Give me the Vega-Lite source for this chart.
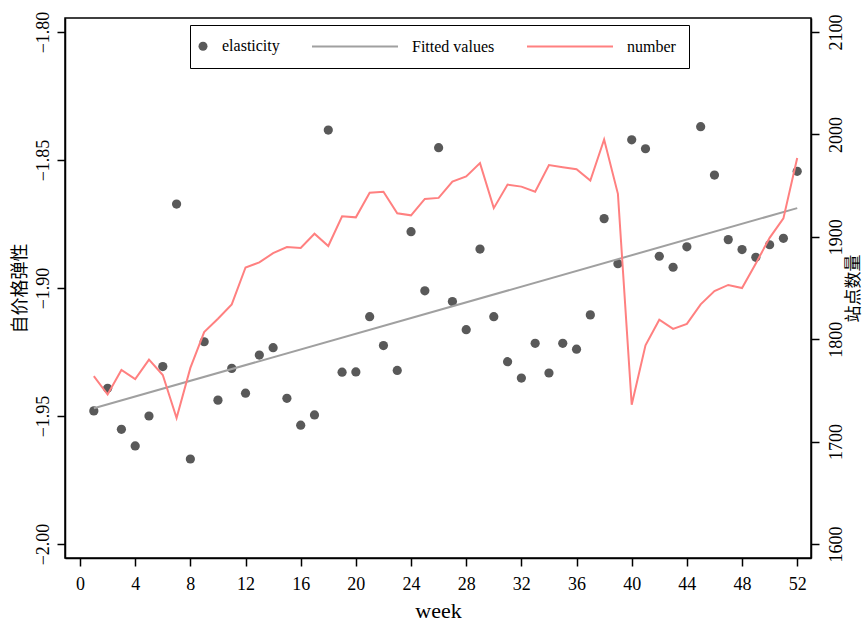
{
  "$schema": "https://vega.github.io/schema/vega-lite/v6.json",
  "width": 746,
  "height": 540,
  "autosize": {"type": "none"},
  "padding": {"left": 65, "top": 18, "right": 52, "bottom": 64},
  "background": "white",
  "datasets": {
    "weekly": [
      {"week": 1, "elasticity": -1.9480, "number": 1764},
      {"week": 2, "elasticity": -1.9392, "number": 1746},
      {"week": 3, "elasticity": -1.9552, "number": 1770},
      {"week": 4, "elasticity": -1.9617, "number": 1761},
      {"week": 5, "elasticity": -1.9500, "number": 1780},
      {"week": 6, "elasticity": -1.9307, "number": 1765},
      {"week": 7, "elasticity": -1.8672, "number": 1723},
      {"week": 8, "elasticity": -1.9668, "number": 1772},
      {"week": 9, "elasticity": -1.9210, "number": 1807},
      {"week": 10, "elasticity": -1.9438, "number": 1820},
      {"week": 11, "elasticity": -1.9314, "number": 1834},
      {"week": 12, "elasticity": -1.9411, "number": 1870},
      {"week": 13, "elasticity": -1.9262, "number": 1875},
      {"week": 14, "elasticity": -1.9233, "number": 1884},
      {"week": 15, "elasticity": -1.9431, "number": 1890},
      {"week": 16, "elasticity": -1.9536, "number": 1889},
      {"week": 17, "elasticity": -1.9496, "number": 1903},
      {"week": 18, "elasticity": -1.8383, "number": 1891},
      {"week": 19, "elasticity": -1.9329, "number": 1920},
      {"week": 20, "elasticity": -1.9328, "number": 1919},
      {"week": 21, "elasticity": -1.9112, "number": 1943},
      {"week": 22, "elasticity": -1.9225, "number": 1944},
      {"week": 23, "elasticity": -1.9322, "number": 1923},
      {"week": 24, "elasticity": -1.8780, "number": 1921},
      {"week": 25, "elasticity": -1.9011, "number": 1937},
      {"week": 26, "elasticity": -1.8452, "number": 1938},
      {"week": 27, "elasticity": -1.9053, "number": 1954},
      {"week": 28, "elasticity": -1.9163, "number": 1959},
      {"week": 29, "elasticity": -1.8848, "number": 1972},
      {"week": 30, "elasticity": -1.9112, "number": 1928},
      {"week": 31, "elasticity": -1.9288, "number": 1951},
      {"week": 32, "elasticity": -1.9352, "number": 1949},
      {"week": 33, "elasticity": -1.9216, "number": 1944},
      {"week": 34, "elasticity": -1.9332, "number": 1970},
      {"week": 35, "elasticity": -1.9216, "number": 1968},
      {"week": 36, "elasticity": -1.9239, "number": 1966},
      {"week": 37, "elasticity": -1.9105, "number": 1955},
      {"week": 38, "elasticity": -1.8729, "number": 1995},
      {"week": 39, "elasticity": -1.8905, "number": 1942},
      {"week": 40, "elasticity": -1.8421, "number": 1736},
      {"week": 41, "elasticity": -1.8456, "number": 1794},
      {"week": 42, "elasticity": -1.8876, "number": 1819},
      {"week": 43, "elasticity": -1.8919, "number": 1810},
      {"week": 44, "elasticity": -1.8839, "number": 1815},
      {"week": 45, "elasticity": -1.8370, "number": 1834},
      {"week": 46, "elasticity": -1.8559, "number": 1847},
      {"week": 47, "elasticity": -1.8811, "number": 1853},
      {"week": 48, "elasticity": -1.8850, "number": 1850},
      {"week": 49, "elasticity": -1.8880, "number": 1874},
      {"week": 50, "elasticity": -1.8831, "number": 1899},
      {"week": 51, "elasticity": -1.8806, "number": 1918},
      {"week": 52, "elasticity": -1.8544, "number": 1977}
    ],
    "fit": [
      {"week": 1, "fitted": -1.9470},
      {"week": 52, "fitted": -1.8688}
    ]
  },
  "layer": [
    {
      "layer": [
        {
          "data": {"name": "weekly"},
          "mark": {"type": "point", "filled": true, "size": 85, "opacity": 1},
          "encoding": {
            "x": {"field": "week", "type": "quantitative", "scale": {"domain": [-1.09, 53.0], "nice": false, "zero": false},
                  "axis": {"values": [0,4,8,12,16,20,24,28,32,36,40,44,48,52], "title": "week", "titleFontSize": 22, "labelPadding": 9, "titlePadding": 7}},
            "y": {"field": "elasticity", "type": "quantitative", "scale": {"domain": [-2.00547, -1.79453], "nice": false, "zero": false},
                  "axis": {"values": [-2.0, -1.95, -1.9, -1.85, -1.8], "format": ".2f", "title": "自价格弹性", "labelAngle": 270, "labelAlign": "center", "labelBaseline": "bottom", "labelPadding": 5, "titlePadding": 5, "titleFontSize": 18}},
            "color": {"datum": "elasticity", "type": "nominal",
                      "scale": {"domain": ["elasticity", "Fitted values", "number"], "range": ["#595959", "#a0a0a0", "#ff8080"]},
                      "legend": {"title": null}},
            "shape": {"datum": "elasticity", "type": "nominal",
                      "scale": {"domain": ["elasticity", "Fitted values", "number"], "range": ["circle", "M-18,0L1.111,0", "M-18,0L1.111,0"]},
                      "legend": {"title": null}},
            "stroke": {"datum": "elasticity", "type": "nominal",
                       "scale": {"domain": ["elasticity", "Fitted values", "number"], "range": ["transparent", "#a0a0a0", "#ff8080"]},
                       "legend": {"title": null}}
          }
        },
        {
          "data": {"name": "fit"},
          "mark": {"type": "line", "strokeWidth": 2, "color": "#a0a0a0"},
          "encoding": {
            "x": {"field": "week", "type": "quantitative"},
            "y": {"field": "fitted", "type": "quantitative"}
          }
        }
      ]
    },
    {
      "data": {"name": "weekly"},
      "mark": {"type": "line", "strokeWidth": 2, "color": "#ff8080"},
      "encoding": {
        "x": {"field": "week", "type": "quantitative"},
        "y": {"field": "number", "type": "quantitative", "scale": {"domain": [1586.3, 2113.7], "nice": false, "zero": false},
              "axis": {"orient": "right", "values": [1600, 1700, 1800, 1900, 2000, 2100], "format": "d", "title": "站点数量", "labelAngle": 270, "labelAlign": "center", "labelBaseline": "top", "labelPadding": 8, "titleAngle": 270, "titleBaseline": "top", "titlePadding": 0, "titleFontSize": 17}}
      }
    }
  ],
  "resolve": {"scale": {"y": "independent"}},
  "config": {
    "view": {"stroke": "black", "strokeWidth": 1.5},
    "legend": {
      "orient": "none", "legendX": 125, "legendY": 7, "direction": "horizontal",
      "padding": 13, "labelOffset": 11, "columnPadding": 28,
      "strokeColor": "black", "fillColor": "white",
      "labelFont": "Liberation Serif", "labelFontSize": 16, "labelColor": "black",
      "symbolSize": 81, "symbolStrokeWidth": 2, "symbolOffset": -8, "symbolOpacity": 1
    },
    "axis": {
      "labelFont": "Liberation Serif", "labelFontSize": 18, "labelColor": "black",
      "titleFont": "Liberation Serif, Noto Sans CJK SC", "titleFontWeight": "normal", "titleColor": "black",
      "tickColor": "black", "tickWidth": 1.5, "tickSize": 8,
      "domainColor": "black", "domainWidth": 1.5, "grid": false,
      "labelFlush": false, "labelOverlap": false
    }
  }
}
